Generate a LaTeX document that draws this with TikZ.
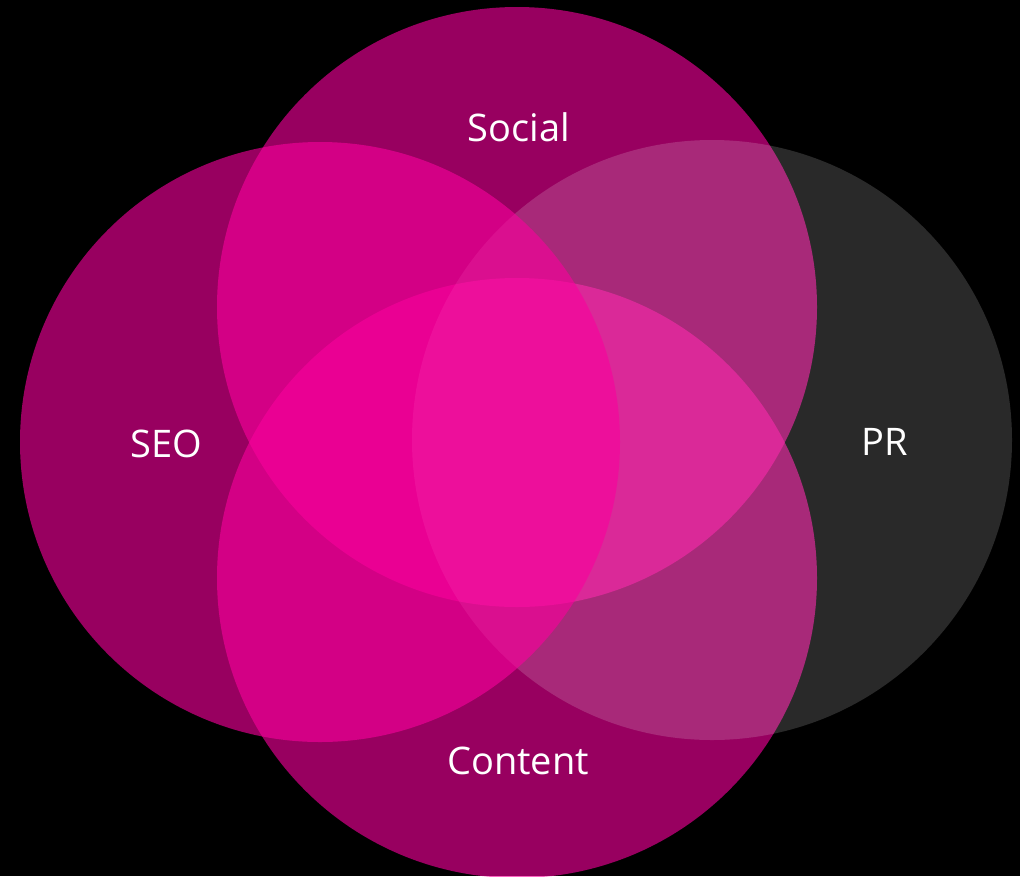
\documentclass[tikz,border=0pt]{standalone}
\usepackage{fontspec}
\newfontfamily\labelfont{Open Sans}
\usetikzlibrary{positioning}

\definecolor{vennpink}{RGB}{250,0,157}

\begin{document}
\begin{tikzpicture}[
        x=1pt,
        y=-1pt,
        every node/.style={font=\labelfont\fontsize{38}{42}\selectfont, text=white},
        pinkdisc/.style={fill=vennpink, fill opacity=0.61},
        greydisc/.style={fill=white, fill opacity=0.16}
    ]
    \fill[black] (0,0) rectangle (1020,876);
    \useasboundingbox (0,0) rectangle (1020,876);
    \clip (0,0) rectangle (1020,876);

    \fill[pinkdisc] (517,307) circle[radius=300pt];
    \fill[pinkdisc] (517,578) circle[radius=300pt];
    \fill[greydisc] (712,440) circle[radius=300pt];
    \fill[pinkdisc] (320,442) circle[radius=300pt];

    \node (social) at (519,127) {Social};
    \node (seo) at (166,444) {SEO};
    \node (pr) at (885,442) {PR};
    \node (content) at (518,761) {Content};
\end{tikzpicture}
\end{document}
